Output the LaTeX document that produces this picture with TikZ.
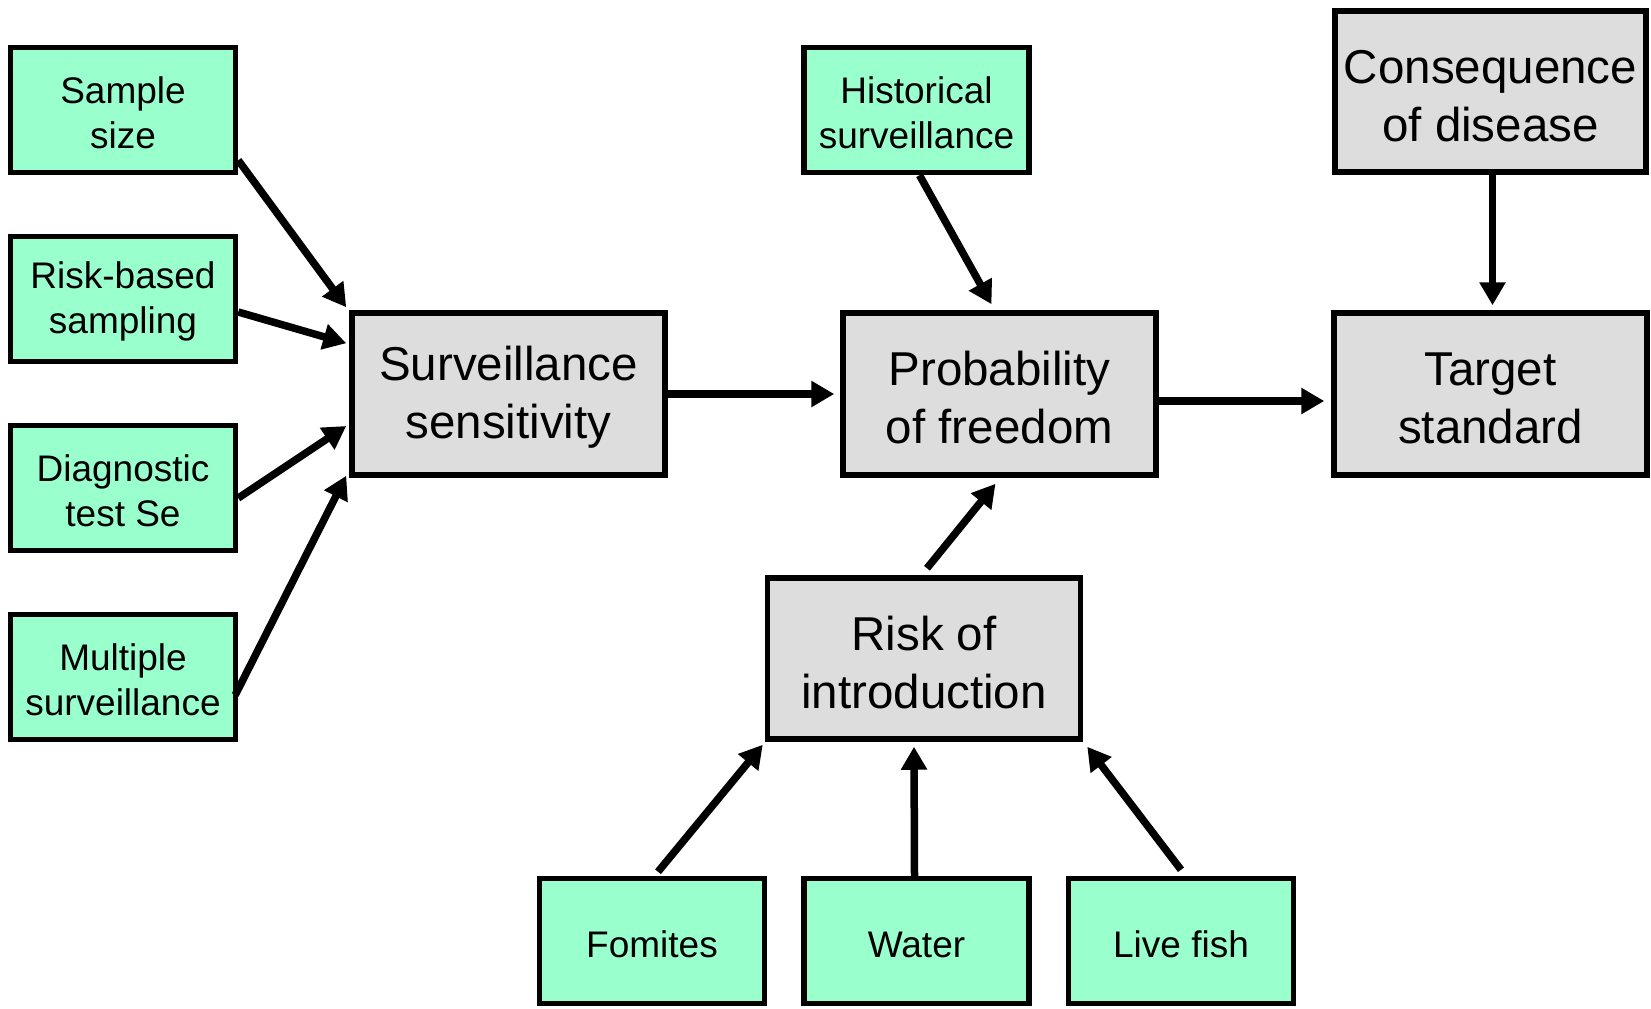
\documentclass[tikz,border=0pt]{standalone}
\usepackage{fontspec}
\setmainfont{Liberation Sans}
\usetikzlibrary{arrows.meta}
\definecolor{boxgreen}{HTML}{99FFCC}
\definecolor{boxgray}{HTML}{DDDDDD}
\newcommand\firststrut{\rule{0pt}{0.88em}}
\begin{document}
\begin{tikzpicture}[x=1bp,y=-1bp,
  inbox/.style={draw, line width=5.5bp, fill=boxgreen, minimum width=225bp, minimum height=125bp, inner sep=0pt, align=center, font=\fontsize{37bp}{45bp}\selectfont},
  midbox/.style={draw, line width=5.5bp, fill=boxgray, minimum width=313bp, minimum height=162bp, inner sep=0pt, align=center, font=\fontsize{47.5bp}{58bp}\selectfont},
  arr/.style={line width=7.5bp, -{Triangle[length=23bp,width=25bp]}}]
\useasboundingbox (0,0) rectangle (1651,1008);
% input boxes
\node[inbox] (samp)  at (123,110) {\firststrut Sample\\size};
\node[inbox] (risk)  at (123,299) {\firststrut Risk-based\\sampling};
\node[inbox] (diag)  at (123,488) {\firststrut Diagnostic\\test Se};
\node[inbox] (mult)  at (123,677) {\firststrut Multiple\\surveillance};
\node[inbox] (hist)  at (916.5,110) {\firststrut Historical\\surveillance};
\node[inbox] (fom)   at (652,941) {\firststrut Fomites};
\node[inbox] (water) at (916.5,941) {\firststrut Water};
\node[inbox] (fish)  at (1181,941) {\firststrut Live fish};
% main boxes
\node[midbox] (ss)     at (508.5,394) {\firststrut Surveillance\\sensitivity};
\node[midbox] (pof)    at (999.5,394) {\firststrut Probability\\of freedom};
\node[midbox] (target) at (1490.5,394) {\firststrut Target\\standard};
\node[midbox, minimum height=161bp, minimum width=311bp] (cons) at (1490.5,91.5) {\firststrut Consequence\\of disease};
\node[midbox, minimum height=161bp] (roi) at (924,658.5) {\firststrut Risk of\\introduction};
% connectors
\draw[arr] ([yshift=15bp]samp.south east) -- ([xshift=-3bp,yshift=3bp]ss.north west);
\draw[arr] ([yshift=-13bp]risk.east) -- ([xshift=-3bp,yshift=-33bp]ss.north west);
\draw[arr] ([yshift=-10bp]diag.east) -- ([xshift=-3bp,yshift=-32bp]ss.west);
\draw[arr] ([xshift=-3bp,yshift=-18bp]mult.east) -- ([xshift=-3bp,yshift=2bp]ss.south west);
\draw[arr] (ss.east) -- ([xshift=-6bp]pof.west);
\draw[arr] ([xshift=3bp]hist.south) -- ([xshift=-8bp,yshift=6bp]pof.north);
\draw[arr] ([yshift=-7bp]pof.east) -- ([xshift=-7bp,yshift=-7bp]target.west);
\draw[arr] ([xshift=2bp]cons.south) -- ([xshift=2bp,yshift=5bp]target.north);
\draw[arr] ([xshift=3bp,yshift=7bp]roi.north) -- ([xshift=-4bp,yshift=-6bp]pof.south);
\draw[arr] ([xshift=6bp,yshift=4bp]fom.north) -- ([xshift=-2bp,yshift=-3bp]roi.south west);
\draw[arr] ([xshift=-2bp]water.north) -- ([xshift=-10bp,yshift=-5bp]roi.south);
\draw[arr] ([yshift=6bp]fish.north) -- ([xshift=4bp,yshift=-5bp]roi.south east);
\end{tikzpicture}
\end{document}
